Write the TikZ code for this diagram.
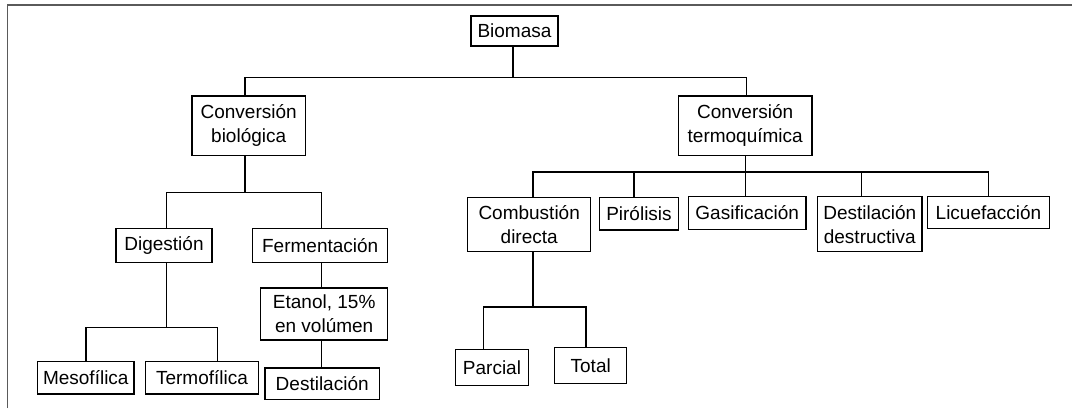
\documentclass[tikz,border=0pt]{standalone}
\usepackage{fontspec}
\setmainfont{Liberation Sans}
\usetikzlibrary{positioning}
\definecolor{framegray}{HTML}{5A5A5A}

\begin{document}
\begin{tikzpicture}
    [x=1pt, y=-1pt,
    link/.style={-,
                 black,
                 line width=1.4pt},
    box/.style={rectangle,
                draw=black,
                line width=1.4pt,
                inner sep=0pt,
                align=center,
                font=\fontsize{19}{24}\selectfont}]
    \useasboundingbox (0,0) rectangle (1072,408);
    \draw[framegray, line width=1.6pt] (7.3,408) |- (1072,5);

    % top levels
    \node[box, minimum width=87pt, minimum height=30pt] (Biomasa) at (514.5,31) {Biomasa};
    \node[box, minimum width=113.3pt, minimum height=59.3pt] (ConvBio) at (248.7,125.7) {Conversión\\biológica};
    \node[box, minimum width=133.7pt, minimum height=59.3pt] (ConvTermo) at (745.2,125.7) {Conversión\\termoquímica};

    % biological branch
    \node[box, minimum width=96pt, minimum height=34pt] (Dig) at (164,245.3) {Digestión};
    \node[box, minimum width=135pt, minimum height=34pt] (Ferm) at (320.2,245.3) {Fermentación};
    \node[box, minimum width=127pt, minimum height=52pt,
          below=24.4pt of Ferm, xshift=4pt] (Etanol) {Etanol, 15\%\\en volúmen};
    \node[box, minimum width=114.3pt, minimum height=31.7pt,
          below=26.3pt of Etanol, xshift=-2pt] (Dest) {Destilación};
    \node[box, minimum width=96.3pt, minimum height=32.3pt] (Meso) at (85.8,377.8) {Mesofílica};
    \node[box, minimum width=112.6pt, minimum height=32.3pt] (Termo) at (202,377.8) {Termofílica};

    % thermochemical branch
    \node[box, minimum width=123pt, minimum height=54.4pt] (Comb) at (529.2,224.5) {Combustión\\directa};
    \node[box, minimum width=79.4pt, minimum height=32.7pt] (Piro) at (639,213.7) {Pirólisis};
    \node[box, minimum width=117.7pt, minimum height=32.6pt] (Gasif) at (747.2,213) {Gasificación};
    \node[box, minimum width=104.3pt, minimum height=55pt] (DestD) at (869.8,224.2) {Destilación\\destructiva};
    \node[box, minimum width=121.6pt, minimum height=32pt] (Licue) at (988.5,212.7) {Licuefacción};
    \node[box, minimum width=73.4pt, minimum height=36pt] (Parc) at (492,367.3) {Parcial};
    \node[box, minimum width=72pt, minimum height=35.6pt] (Total) at (590.7,365.5) {Total};

    % junctions
    \coordinate (j0) at (513,77.3);
    \coordinate (j1) at (245,192.3);
    \coordinate (j2) at (166.7,327.7);
    \coordinate (jf) at (321.5,300);
    \coordinate (j4) at (745.7,172);
    \coordinate (j5) at (533,307);

    \draw[link] (Biomasa.south -| j0) -- (j0);
    \draw[link] ([xshift=-3.7pt]ConvBio.north) |- (j0) -| ([xshift=1.5pt]ConvTermo.north);

    \draw[link] (ConvBio.south -| j1) -- (j1);
    \draw[link] ([xshift=2.7pt]Dig.north) |- (j1) -| ([xshift=1.5pt]Ferm.north);
    \draw[link] (Dig.south -| j2) -- (j2);
    \draw[link] (Meso.north) |- (j2) -| ([xshift=15.3pt]Termo.north);
    \draw[link] (Ferm.south -| jf) -- (Etanol.north -| jf);
    \draw[link] (Etanol.south -| jf) -- (Dest.north -| jf);

    \draw[link] (ConvTermo.south -| j4) -- (j4);
    \draw[link] ([xshift=3.8pt]Comb.north) |- (j4) -| (Licue.north);
    \foreach \n/\dx in {Piro/-5, Gasif/-1.5, DestD/-8.1}
        \draw[link] ([xshift=\dx pt]\n.north) -- ([xshift=\dx pt]\n.north |- j4);
    \draw[link] (Comb.south -| j5) -- (j5);
    \draw[link] ([xshift=-8.7pt]Parc.north) |- (j5) -| ([xshift=-4.7pt]Total.north);
\end{tikzpicture}
\end{document}
